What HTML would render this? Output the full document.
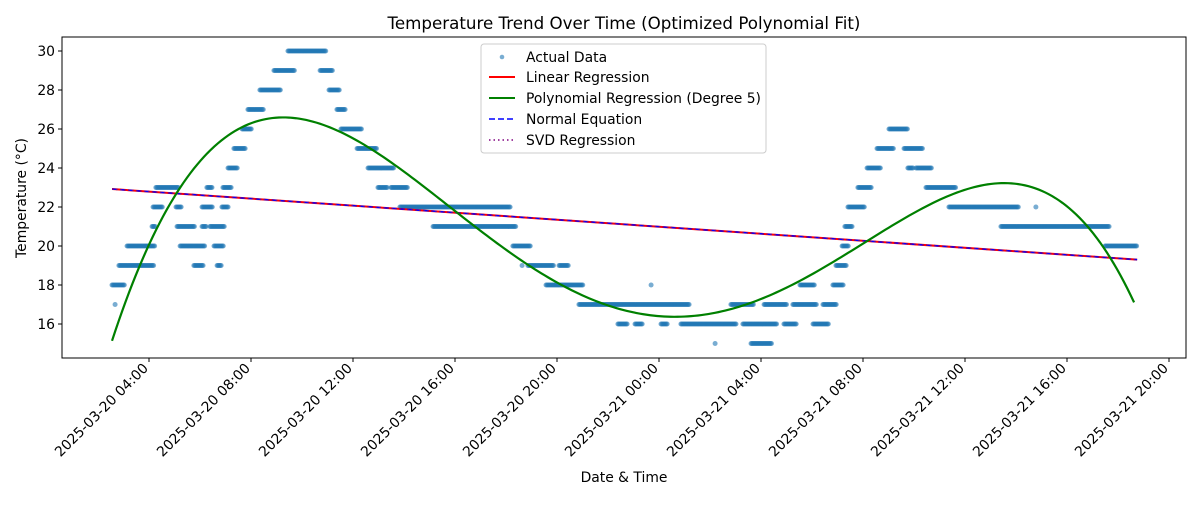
<!DOCTYPE html>
<html><head><meta charset="utf-8"><style>
body{margin:0;background:#fff;}
svg text{font-family:"DejaVu Sans","Liberation Sans",sans-serif;}
</style></head><body>
<svg id="chart" width="1200" height="500" xmlns="http://www.w3.org/2000/svg">
<rect width="1200" height="500" fill="#fff"/>
<text x="624" y="29" text-anchor="middle" font-size="16.7">Temperature Trend Over Time (Optimized Polynomial Fit)</text>
<g id="plot"></g>
<rect x="62" y="37" width="1124" height="321" fill="none" stroke="#000" stroke-width="1"/>
<g id="xticks"></g><g id="yticks"></g>
<text x="624" y="482" text-anchor="middle" font-size="13.9">Date &amp; Time</text>
<text transform="translate(26,198) rotate(-90)" text-anchor="middle" font-size="13.9">Temperature (°C)</text>
<g>
<rect x="481" y="44" width="285" height="109" rx="3" fill="#fff" fill-opacity="0.8" stroke="#ccc"/>
<circle cx="502" cy="57" r="2.3" fill="#1f77b4" fill-opacity="0.6"/>
<text x="526" y="62" font-size="13.9">Actual Data</text>
<line x1="489" y1="77" x2="515" y2="77" stroke="red" stroke-width="2"/>
<text x="526" y="82" font-size="13.9">Linear Regression</text>
<line x1="489" y1="98" x2="515" y2="98" stroke="green" stroke-width="2"/>
<text x="526" y="103" font-size="13.9">Polynomial Regression (Degree 5)</text>
<line x1="489" y1="119" x2="515" y2="119" stroke="blue" stroke-width="1.6" stroke-dasharray="6,3"/>
<text x="526" y="124" font-size="13.9">Normal Equation</text>
<line x1="489" y1="140" x2="515" y2="140" stroke="purple" stroke-width="1.6" stroke-dasharray="1.5,3"/>
<text x="526" y="145" font-size="13.9">SVD Regression</text>
</g>
</svg>
<script>
// hours since 2025-03-20 00:00
const segStart=[2.67,2.55,2.82,5.76,6.67,3.14,5.22,6.55,4.12,5.10,6.08,6.39,4.16,5.06,6.08,6.86,4.27,6.27,6.90,7.10,7.33,7.65,7.88,8.35,8.90,9.45,10.71,11.06,11.37,11.53,12.16,12.59,12.98,13.49,13.84,15.14,18.27,18.63,18.86,20.08,19.57,23.69,20.86,26.82,28.12,29.25,30.43,22.39,23.06,24.08,24.86,27.29,28.90,30.04,26.20,27.61,29.53,30.82,30.94,31.18,31.29,31.41,31.80,32.16,33.76,34.08,32.55,33.61,33.02,34.47,35.37,38.78,37.41,41.49];
const segEnd=[2.70,3.06,4.20,6.12,6.86,4.24,6.20,6.94,4.24,5.80,6.24,6.98,4.55,5.29,6.51,7.10,5.18,6.47,7.25,7.49,7.80,8.04,8.51,9.18,9.73,10.94,11.22,11.49,11.69,12.35,12.94,13.61,13.37,14.16,18.16,18.39,18.98,18.65,19.88,20.47,21.02,23.71,25.18,27.73,29.02,30.20,30.98,22.78,23.37,24.35,27.02,28.63,29.41,30.67,26.22,28.43,30.12,31.25,31.37,31.45,31.57,32.08,32.35,32.71,33.96,34.71,33.22,34.35,33.76,35.65,38.12,38.80,41.65,42.75];
const segTemp=[17,18,19,19,19,20,20,20,21,21,21,21,22,22,22,22,23,23,23,24,25,26,27,28,29,30,29,28,27,26,25,24,23,23,22,21,20,19,19,19,18,18,17,17,17,17,17,16,16,16,16,16,16,16,15,15,18,18,19,20,21,22,23,24,24,24,25,25,26,23,22,22,21,20];
// read-off samples of the degree-5 curve
const polyHours=[2.55,4.0,5.2,6.5,7.8,9.4,11.2,13.0,16.0,17.5,20.0,22.6,24.8,27.1,29.5,31.1,32.2,34.3,36.6,37.5,39.3,40.9,42.63];
const polyTemps=[15.2,20.0,22.9,24.9,26.3,26.8,26.1,24.5,22.0,20.0,17.9,17.0,16.65,16.9,17.9,19.4,20.2,21.95,23.1,23.3,22.7,20.8,17.1];
const linHours=[2.55,42.75];
const linTemps=[22.92,19.3];
const xTickHours=[4,8,12,16,20,24,28,32,36,40,44];
const xTickLabels=["2025-03-20 04:00","2025-03-20 08:00","2025-03-20 12:00","2025-03-20 16:00","2025-03-20 20:00","2025-03-21 00:00","2025-03-21 04:00","2025-03-21 08:00","2025-03-21 12:00","2025-03-21 16:00","2025-03-21 20:00"];
const yTicks=[16,18,20,22,24,26,28,30];

const NS="http://www.w3.org/2000/svg";
const X=h=>47+h*25.5;
const Y=t=>324-(t-16)*19.5;
function mk(tag,attrs,parent){const e=document.createElementNS(NS,tag);for(const k in attrs)e.setAttribute(k,attrs[k]);parent.appendChild(e);return e;}
const plot=document.getElementById('plot');
const dots=mk('g',{},plot);


for(let i=0;i<segStart.length;i++){
  for(let h=segStart[i];h<=segEnd[i]+1e-9;h+=0.04){
    const c=mk('circle',{cx:X(h).toFixed(2),cy:Y(segTemp[i]).toFixed(2),r:2.5,fill:'#1f77b4','fill-opacity':0.6},dots);
    
    
  }
}
const lx1=X(linHours[0]),ly1=Y(linTemps[0]),lx2=X(linHours[1]),ly2=Y(linTemps[1]);
const lr=mk('line',{x1:lx1,y1:ly1,x2:lx2,y2:ly2,stroke:'red','stroke-width':2},plot);


const ne=mk('line',{x1:lx1,y1:ly1,x2:lx2,y2:ly2,stroke:'blue','stroke-width':1.5,'stroke-dasharray':'5.5,2.5'},plot);


const sv=mk('line',{x1:lx1,y1:ly1,x2:lx2,y2:ly2,stroke:'purple','stroke-width':1.5,'stroke-dasharray':'1.5,2.5'},plot);


// degree-5 least squares fit through read-off samples
const h0=polyHours[0],h1=polyHours[polyHours.length-1];
const nz=h=>(2*h-h0-h1)/(h1-h0);
const D=6,A=[],B=[];
for(let r=0;r<D;r++){A.push(new Array(D).fill(0));B.push(0);}
polyHours.forEach((h,i)=>{const z=nz(h);for(let r=0;r<D;r++){B[r]+=Math.pow(z,r)*polyTemps[i];for(let c=0;c<D;c++)A[r][c]+=Math.pow(z,r+c);}});
for(let c=0;c<D;c++){let p=c;for(let r=c+1;r<D;r++)if(Math.abs(A[r][c])>Math.abs(A[p][c]))p=r;[A[c],A[p]]=[A[p],A[c]];[B[c],B[p]]=[B[p],B[c]];
  for(let r=0;r<D;r++){if(r===c)continue;const f=A[r][c]/A[c][c];for(let k=c;k<D;k++)A[r][k]-=f*A[c][k];B[r]-=f*B[c];}}
const coef=B.map((b,i)=>b/A[i][i]);
const pv=h=>{const z=nz(h);let s=0;for(let r=0;r<D;r++)s+=coef[r]*Math.pow(z,r);return s;};
let d='';
for(let k=0;k<=300;k++){const h=h0+(h1-h0)*k/300;d+=(k?'L':'M')+X(h).toFixed(2)+','+Y(pv(h)).toFixed(2);}
const poly=mk('path',{d:d,fill:'none',stroke:'green','stroke-width':2.2},plot);


const xt=document.getElementById('xticks');
xTickHours.forEach((h,i)=>{
  const x=X(h);
  const t=mk('line',{x1:x,y1:358,x2:x,y2:362,stroke:'#000'},xt);
  
  
  const l=mk('text',{transform:`translate(${x},${369}) rotate(-45)`,'text-anchor':'end','font-size':13.9},xt);
  l.textContent=xTickLabels[i];
  
  
});
const yt=document.getElementById('yticks');
yTicks.forEach(v=>{
  const y=Y(v);
  const t=mk('line',{x1:58,y1:y,x2:62,y2:y,stroke:'#000'},yt);
  
  
  const l=mk('text',{x:55,y:y+5,'text-anchor':'end','font-size':13.9},yt);
  l.textContent=v;
  
  
});
</script>
</body></html>
